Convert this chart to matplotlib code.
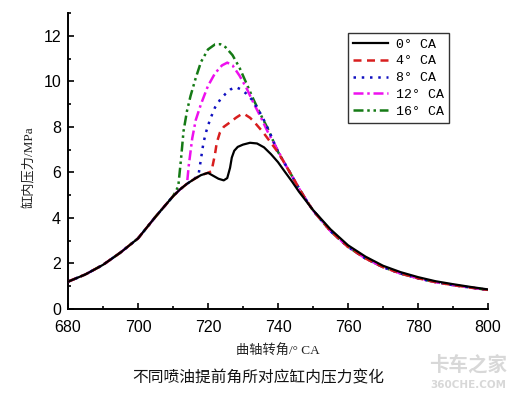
import matplotlib
matplotlib.use("Agg")
import matplotlib.pyplot as plt
from matplotlib.ticker import MultipleLocator

# shared compression part (all cases)
x_rise = [680, 685, 690, 695, 700, 705, 710, 712, 714, 716, 718, 720]
y_rise = [1.20, 1.52, 1.94, 2.48, 3.10, 4.05, 4.95, 5.25, 5.50, 5.70, 5.88, 5.98]

# 0 deg CA
x0 = [721.5, 723, 724.5, 725.5, 726.3, 726.8, 727.5, 728.5, 730, 732, 734, 736, 738, 740,
      742, 744, 746, 748, 750, 755, 760, 765, 770, 775, 780, 785, 790, 795, 800]
y0 = [5.85, 5.72, 5.65, 5.75, 6.2, 6.65, 6.95, 7.12, 7.22, 7.3, 7.27, 7.1, 6.8, 6.45,
      6.02, 5.6, 5.15, 4.75, 4.35, 3.5, 2.8, 2.3, 1.9, 1.62, 1.40, 1.22, 1.09, 0.97, 0.86]

# shared expansion tail for advanced injection
x_tail = [742, 744, 746, 748, 750, 755, 760, 765, 770, 775, 780, 785, 790, 795, 800]
y_tail = [6.37, 5.84, 5.3, 4.8, 4.33, 3.42, 2.73, 2.22, 1.84, 1.56, 1.35, 1.18, 1.05, 0.94, 0.84]

# 4 deg CA
x4 = [721, 722, 722.5, 723.4, 724.5, 726.3, 728, 729.5, 730.5, 732, 733, 735.8, 738.7, 740]
y4 = [6.05, 6.8, 7.3, 7.75, 8.0, 8.2, 8.4, 8.55, 8.55, 8.4, 8.25, 7.75, 7.15, 6.88]

# 8 deg CA
x8 = [717.3, 718, 718.7, 719.5, 720.6, 722, 723.5, 725, 726.5, 728, 729.5, 731, 732.5, 734,
      735.5, 737.5, 740]
y8 = [5.9, 6.6, 7.3, 7.8, 8.33, 8.85, 9.2, 9.45, 9.65, 9.74, 9.64, 9.45, 9.2, 8.85,
      8.45, 7.8, 6.9]

# 12 deg CA
x12 = [714.5, 715.5, 716.5, 718, 720, 722, 724, 725.5, 727, 729, 731, 733, 735, 737, 740]
y12 = [6.3, 7.5, 8.3, 9.0, 9.8, 10.35, 10.7, 10.82, 10.7, 10.25, 9.7, 9.05, 8.45, 7.8, 6.95]

# 16 deg CA
x16 = [711.5, 712.3, 713, 714, 715, 716.5, 718, 720, 722, 723.5, 725, 727, 729, 731, 733,
       735, 737, 740]
y16 = [5.38, 6.6, 7.8, 8.7, 9.35, 10.15, 10.85, 11.4, 11.62, 11.63, 11.5, 11.15, 10.6, 9.9,
       9.2, 8.55, 7.95, 6.9]

labels = ["0° CA", "4° CA", "8° CA", "12° CA", "16° CA"]


def build(start, xs, ys, tail=True):
    bx = [v for v in x_rise if v < start]
    by = y_rise[:len(bx)]
    if tail:
        return bx + xs + x_tail, by + ys + y_tail
    return bx + xs, by + ys


cn = ["Noto Sans CJK SC", "DejaVu Sans"]
serif = ["Liberation Serif", "Noto Sans CJK SC", "DejaVu Sans"]

fig = plt.figure(figsize=(5.16, 3.95), dpi=100)
ax = fig.add_axes([68 / 516, 1 - 309 / 395, 420 / 516, 296 / 395])

lw = 1.8
bx, by = build(721, x0, y0, tail=False)
ax.plot(bx, by, color="black", lw=1.6, label=labels[0], zorder=6)
bx, by = build(721, x4, y4)
ax.plot(bx, by, color="#d81e1e", lw=lw, dashes=(3.2, 2.2), label=labels[1], zorder=5)
bx, by = build(717.3, x8, y8)
ax.plot(bx, by, color="#1010c0", lw=lw, dashes=(1, 2.3), label=labels[2], zorder=4)
bx, by = build(714.5, x12, y12)
ax.plot(bx, by, color="#ee10ee", lw=lw, dashes=(4, 1.5, 1, 1.5), label=labels[3], zorder=3)
bx, by = build(711.5, x16, y16)
ax.plot(bx, by, color="#157a15", lw=lw, dashes=(4, 1.5, 1, 1.5, 1, 1.5), label=labels[4], zorder=2)

ax.set_xlim(680, 800)
ax.set_ylim(0, 13)
ax.xaxis.set_major_locator(MultipleLocator(20))
ax.xaxis.set_minor_locator(MultipleLocator(10))
ax.yaxis.set_major_locator(MultipleLocator(2))
ax.yaxis.set_minor_locator(MultipleLocator(1))
ax.spines["top"].set_visible(False)
ax.spines["right"].set_visible(False)
for s in ("left", "bottom"):
    ax.spines[s].set_linewidth(1.4)
ax.tick_params(which="both", direction="in", width=1.2)
ax.tick_params(which="major", length=4, labelsize=11.5)
ax.tick_params(axis="x", which="major", pad=8)
ax.tick_params(axis="y", which="major", pad=5)
ax.tick_params(which="minor", length=2.5)
for t in ax.get_xticklabels() + ax.get_yticklabels():
    t.set_fontfamily("Liberation Sans")

ax.set_xlabel("曲轴转角/° CA", fontfamily=serif, fontsize=9.5, color="#222222")
ax.xaxis.set_label_coords(0.5, -42 / 296)
ax.xaxis.label.set_va("center")
ax.set_ylabel("缸内压力/MPa", fontfamily=serif, fontsize=9.5, color="#222222")
ax.yaxis.set_label_coords(-38 / 420, 0.48)
ax.yaxis.label.set_va("center")

leg = ax.legend(loc="upper left", bbox_to_anchor=((348 - 68) / 420, (309 - 33) / 296),
                prop={"family": "Liberation Mono", "size": 9.5}, frameon=True, fancybox=False,
                edgecolor="black", handlelength=2.6, handletextpad=0.6, labelspacing=0.35,
                borderpad=0.4, borderaxespad=0)
leg.get_frame().set_linewidth(1.0)

fig.text(0.5, 1 - 378 / 395, "不同喷油提前角所对应缸内压力变化", fontfamily=cn,
         fontsize=11.3, ha="center", va="center", color="#111111")

# watermark
fig.text(468 / 516, 1 - 365 / 395, "卡车之家", fontfamily=cn, fontsize=14, weight="bold",
         ha="center", va="center", color="#d8d8d8")
fig.text(468 / 516, 1 - 385 / 395, "360CHE.COM", fontfamily="DejaVu Sans", fontsize=7.5,
         weight="bold", ha="center", va="center", color="#d8d8d8")

fig.savefig("out.png", dpi=100)
